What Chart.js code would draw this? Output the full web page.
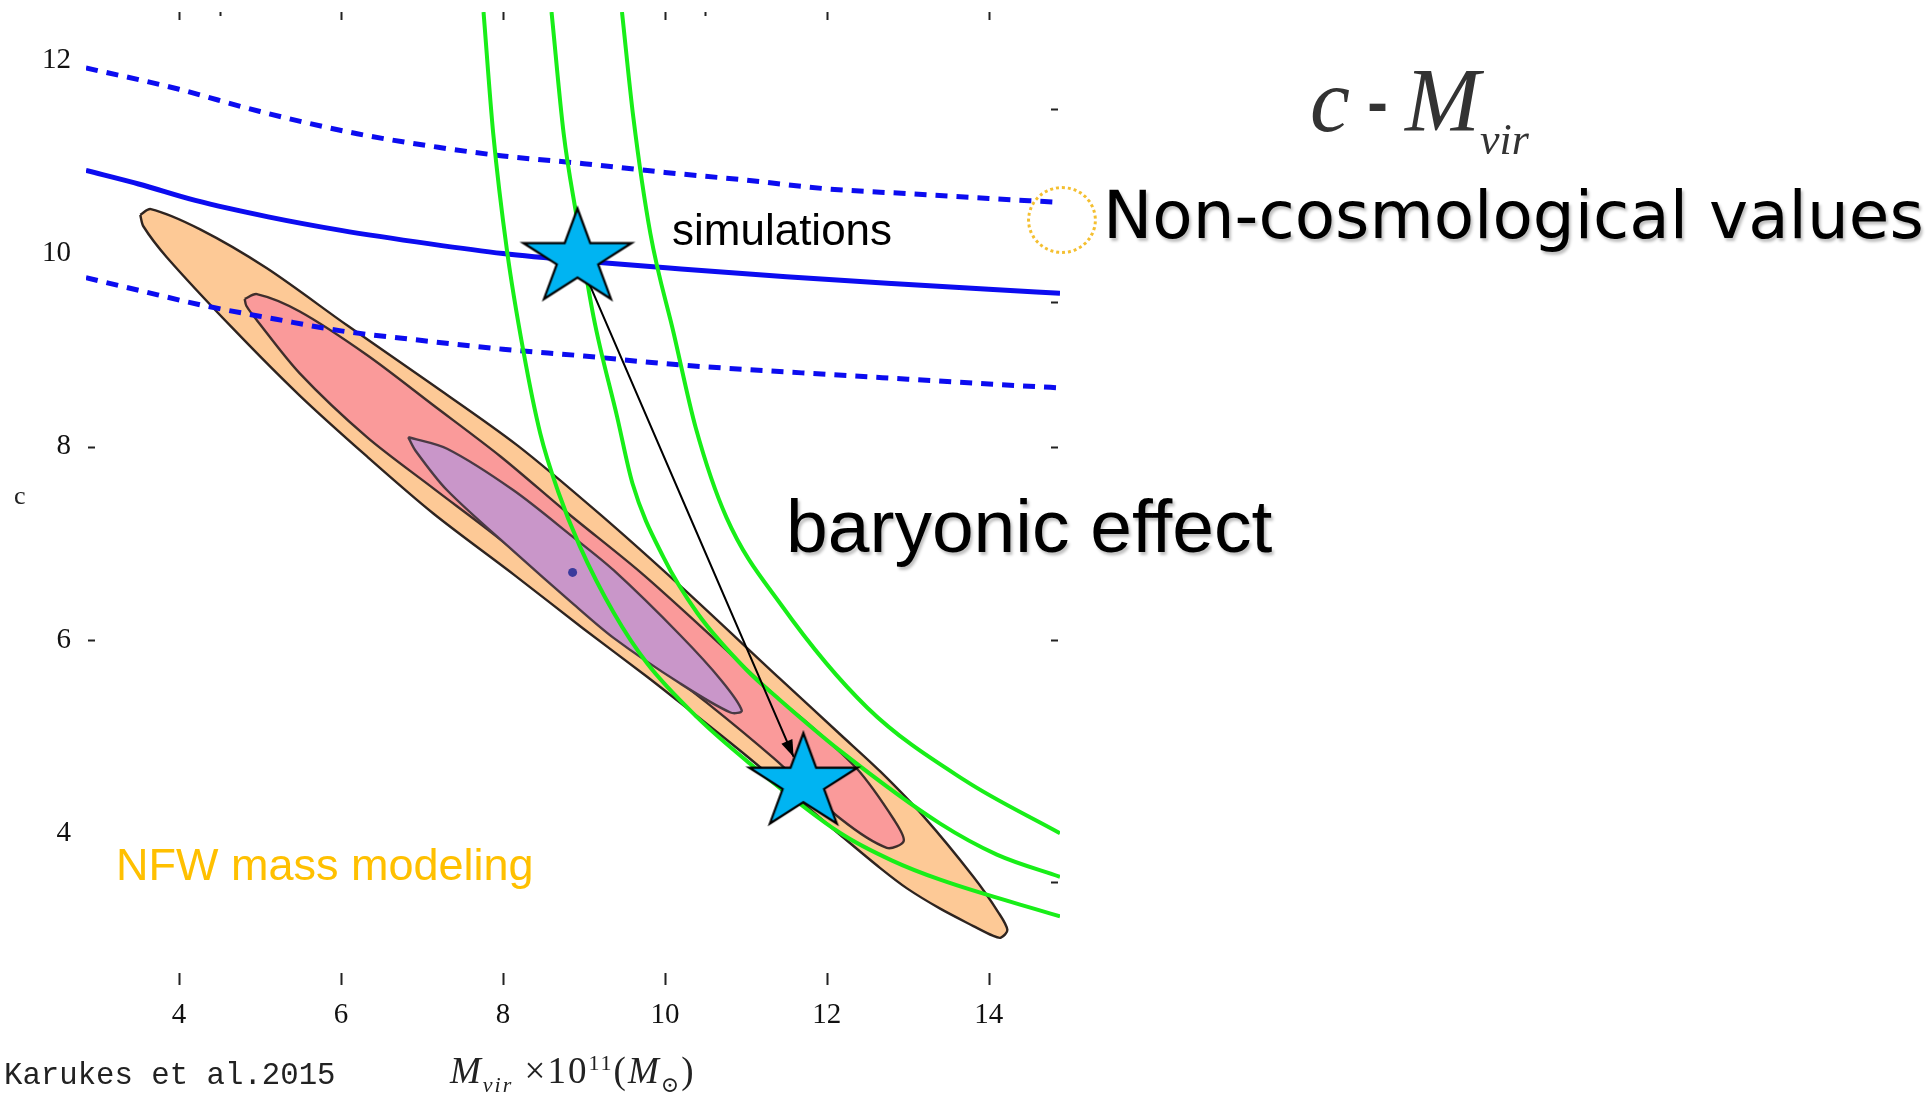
<!DOCTYPE html>
<html lang="en">
<head>
    <meta charset="UTF-8">
    <title>c - Mvir</title>
    <script src="https://cdn.jsdelivr.net/npm/chart.js"></script>
    <style>
        body {
            margin: 0;
            background: #fff;
            width: 1930px;
            height: 1093px;
            overflow: hidden;
            position: relative;
        }

        .chart-box {
            position: absolute;
            left: 0;
            top: 0;
            width: 1930px;
            height: 1093px;
        }

        .note {
            position: absolute;
            white-space: nowrap;
            line-height: 1;
        }

        .sans {
            font-family: "Liberation Sans", Arial, sans-serif;
            color: #000;
            text-shadow: 2px 3px 3px rgba(0, 0, 0, 0.25);
        }

        .serif {
            font-family: "Liberation Serif", "DejaVu Serif", serif;
        }

        .sun {
            position: absolute;
            left: 1027px;
            top: 186px;
            width: 64px;
            height: 62px;
            border: 3px dotted #f4bf30;
            border-radius: 50%;
        }
    </style>
</head>
<body>
    <div class="chart-box">
        <canvas id="cmChart"></canvas>
    </div>

    <!-- annotations -->
    <div class="note serif" style="left:1310px; top:56px; font-size:90px; color:#333;">
        <i>c</i><span style="font-family:'Liberation Sans',sans-serif; font-size:62px; font-weight:bold; position:relative; top:-8px;"> - </span><i>M</i><sub style="font-size:44px; position:relative; top:4px;"><i>vir</i></sub>
    </div>
    <div class="sun"></div>
    <div class="note" style="left:1103px; top:183px; font-size:66px; font-family:'DejaVu Sans', Verdana, sans-serif; text-shadow:2px 3px 3px rgba(0,0,0,0.25);">Non-cosmological values</div>
    <div class="note sans" style="left:672px; top:208px; font-size:44px; text-shadow:none;">simulations</div>
    <div class="note sans" style="left:786px; top:489px; font-size:75px;">baryonic effect</div>
    <div class="note" style="left:116px; top:842px; font-size:45px; font-family:'Liberation Sans', Arial, sans-serif; color:#ffc000;">NFW mass modeling</div>
    <div class="note" style="left:4px; top:1061px; font-size:30.7px; font-family:'Liberation Mono','Courier New',monospace; color:#222;">Karukes et al.2015</div>
    <div class="note serif" style="left:450px; top:1052px; font-size:37px; color:#222; letter-spacing:2px;">
        <i>M</i><sub style="font-size:22px;"><i>vir</i></sub> ×10<sup style="font-size:22px;">11</sup>(<i>M</i><sub style="font-size:22px;">⊙</sub>)
    </div>
    <div class="note serif" style="left:14px; top:483px; font-size:26px; color:#222;">c</div>

    <script>
        // axis ticks
        const xTicks = [4, 6, 8, 10, 12, 14];
        const yTicks = [4, 6, 8, 10, 12];
        const topMinorTicks = [4.5, 10.5];
        const leftTicks = [8, 6];
        const rightTicks = [11.5, 9.5, 8, 6, 3.5];

        // NFW mass modeling contours (outer, middle, inner)
        const outerX = [3.52, 3.65, 4.26, 5.08, 6.07, 7.10, 8.17, 9.20, 10.19, 11.42, 12.17, 12.66, 13.20, 13.81, 14.12, 14.23, 14.15, 14.05, 13.81, 13.40, 12.99, 12.66, 12.17, 11.01, 10.19, 9.78, 8.99, 8.13, 7.14, 6.32, 5.49, 4.67, 3.85, 3.56, 3.52];
        const outerY = [10.40, 10.46, 10.25, 9.85, 9.26, 8.66, 8.02, 7.30, 6.56, 5.60, 5.02, 4.64, 4.17, 3.55, 3.18, 3.00, 2.92, 2.94, 3.04, 3.22, 3.43, 3.64, 3.98, 4.80, 5.35, 5.62, 6.12, 6.68, 7.31, 7.90, 8.53, 9.22, 9.96, 10.28, 10.40];
        const pinkX = [4.81, 4.96, 5.49, 6.32, 7.14, 7.97, 8.79, 9.70, 10.60, 11.42, 11.75, 12.37, 12.83, 12.95, 12.74, 12.17, 11.34, 10.52, 9.70, 8.99, 7.97, 7.14, 6.32, 5.49, 4.96, 4.83, 4.81];
        const pinkY = [9.53, 9.58, 9.40, 8.95, 8.43, 7.90, 7.32, 6.70, 6.02, 5.38, 5.15, 4.67, 4.14, 3.92, 3.85, 4.15, 4.78, 5.35, 5.88, 6.33, 7.04, 7.57, 8.10, 8.76, 9.31, 9.46, 9.53];
        const purpleX = [6.83, 7.31, 8.13, 8.86, 9.37, 10.19, 10.70, 10.95, 10.81, 10.19, 9.37, 8.86, 8.13, 7.31, 6.92, 6.83];
        const purpleY = [8.10, 7.98, 7.55, 7.07, 6.72, 6.05, 5.58, 5.27, 5.25, 5.55, 6.02, 6.38, 6.92, 7.55, 7.96, 8.10];
        const bestX = [8.86];
        const bestY = [6.70];

        // simulations c-M relation and scatter
        const simX = [2.85, 3.5, 4.2, 5.1, 6.0, 7.1, 8.0, 9.0, 10.2, 11.5, 12.8, 14.0, 14.88];
        const simY = [10.86, 10.72, 10.55, 10.38, 10.24, 10.10, 10.00, 9.92, 9.84, 9.76, 9.69, 9.63, 9.59];
        const simUpX = [2.85, 3.5, 4.0, 5.0, 6.2, 7.2, 8.0, 9.0, 10.0, 11.0, 12.0, 13.0, 14.0, 14.88];
        const simUpY = [11.92, 11.80, 11.70, 11.47, 11.24, 11.10, 11.01, 10.93, 10.84, 10.76, 10.67, 10.62, 10.57, 10.53];
        const simLowX = [2.85, 3.5, 4.26, 5.2, 6.0, 7.0, 8.0, 9.0, 10.0, 11.0, 12.0, 13.0, 14.0, 14.88];
        const simLowY = [9.75, 9.62, 9.47, 9.32, 9.20, 9.10, 9.01, 8.94, 8.86, 8.80, 8.75, 8.70, 8.65, 8.61];

        // green curves
        const greenAX = [7.76, 7.88, 8.05, 8.25, 8.46, 8.68, 8.95, 9.37, 9.78, 10.40, 11.01, 12.17, 12.80, 13.40, 14.88];
        const greenAY = [12.50, 11.24, 10.03, 9.00, 8.14, 7.54, 6.97, 6.28, 5.76, 5.20, 4.75, 4.00, 3.72, 3.52, 3.14];
        const greenBX = [8.60, 8.75, 8.91, 9.12, 9.41, 9.60, 9.98, 10.40, 11.01, 11.42, 12.17, 13.40, 14.10, 14.88];
        const greenBY = [12.50, 11.24, 10.38, 9.34, 8.31, 7.62, 6.86, 6.28, 5.69, 5.38, 4.85, 4.10, 3.78, 3.55];
        const greenCX = [9.47, 9.61, 9.82, 10.11, 10.38, 10.76, 11.44, 12.50, 13.70, 14.88];
        const greenCY = [12.50, 11.41, 10.21, 9.17, 8.20, 7.27, 6.36, 5.30, 4.55, 4.00];

        // stars and the arrow between them
        const starX = [8.92, 11.71];
        const starY = [9.97, 4.54];
        const arrowX = [8.92, 11.59];
        const arrowY = [9.97, 4.79];

        function pts(xs, ys) {
            return xs.map((x, i) => ({ x: x, y: ys[i] }));
        }

        // five pointed star marker
        function makeStar() {
            const c = document.createElement('canvas');
            c.width = 122;
            c.height = 106;
            const g = c.getContext('2d');
            const cx = 61, cy = 55, rx = 57, ry = 50, k = 0.382;
            g.beginPath();
            for (let i = 0; i < 10; i++) {
                const a = -Math.PI / 2 + i * Math.PI / 5;
                const f = i % 2 ? k : 1;
                const px = cx + Math.cos(a) * rx * f;
                const py = cy + Math.sin(a) * ry * f;
                if (i === 0) g.moveTo(px, py); else g.lineTo(px, py);
            }
            g.closePath();
            g.fillStyle = '#00b4f2';
            g.fill();
            g.lineWidth = 2.2;
            g.strokeStyle = '#000';
            g.stroke();
            return c;
        }

        function contour(label, xs, ys, fillColor, edgeColor, order) {
            return {
                label: label,
                data: pts(xs, ys),
                showLine: true,
                fill: 'shape',
                backgroundColor: fillColor,
                borderColor: edgeColor,
                borderWidth: 2.4,
                tension: 0.3,
                pointRadius: 0,
                order: order
            };
        }

        function curve(label, xs, ys, color, width, dash, order) {
            return {
                label: label,
                data: pts(xs, ys),
                showLine: true,
                fill: false,
                borderColor: color,
                borderWidth: width,
                borderDash: dash,
                cubicInterpolationMode: 'monotone',
                pointRadius: 0,
                order: order
            };
        }

        const arrowHead = {
            id: 'arrowHead',
            afterDatasetDraw(chart, args) {
                if (chart.data.datasets[args.index].label !== 'arrow') return;
                const p = args.meta.data;
                const a = p[0], b = p[p.length - 1];
                const ang = Math.atan2(b.y - a.y, b.x - a.x);
                const ctx = chart.ctx;
                ctx.save();
                ctx.translate(b.x, b.y);
                ctx.rotate(ang);
                ctx.beginPath();
                ctx.moveTo(0, 0);
                ctx.lineTo(-17, -6);
                ctx.lineTo(-17, 6);
                ctx.closePath();
                ctx.fillStyle = '#000';
                ctx.fill();
                ctx.restore();
            }
        };

        // short inward ticks on the four sides of the frame (no frame lines)
        const frameTicks = {
            id: 'frameTicks',
            afterDraw(chart) {
                const { ctx, chartArea: ca, scales } = chart;
                const x = scales.x, y = scales.y;
                ctx.save();
                ctx.strokeStyle = '#222';
                ctx.lineWidth = 2;
                ctx.beginPath();
                xTicks.forEach(v => {
                    const px = Math.round(x.getPixelForValue(v)) + 0.5;
                    ctx.moveTo(px, ca.bottom);
                    ctx.lineTo(px, ca.bottom - 12);
                    ctx.moveTo(px, ca.top);
                    ctx.lineTo(px, ca.top + 8);
                });
                topMinorTicks.forEach(v => {
                    const px = Math.round(x.getPixelForValue(v)) + 0.5;
                    ctx.moveTo(px, ca.top);
                    ctx.lineTo(px, ca.top + 4);
                });
                leftTicks.forEach(v => {
                    const py = Math.round(y.getPixelForValue(v)) + 0.5;
                    ctx.moveTo(ca.left + 2, py);
                    ctx.lineTo(ca.left + 9, py);
                });
                rightTicks.forEach(v => {
                    const py = Math.round(y.getPixelForValue(v)) + 0.5;
                    ctx.moveTo(ca.right - 9, py);
                    ctx.lineTo(ca.right - 2, py);
                });
                ctx.stroke();
                ctx.restore();
            }
        };

        const starImg = makeStar();
        const tickFont = { family: 'Liberation Serif', size: 29 };

        new Chart(document.getElementById('cmChart'), {
            type: 'scatter',
            data: {
                datasets: [
                    {
                        label: 'stars',
                        data: pts(starX, starY),
                        pointStyle: starImg,
                        pointRadius: 50,
                        clip: false,
                        order: 0
                    },
                    curve('arrow', arrowX, arrowY, '#000', 2, [], 1),
                    curve('green A', greenAX, greenAY, '#18ee18', 4, [], 2),
                    curve('green B', greenBX, greenBY, '#18ee18', 4, [], 2),
                    curve('green C', greenCX, greenCY, '#18ee18', 4, [], 2),
                    curve('simulations', simX, simY, '#0c0cf0', 5, [], 3),
                    curve('sim upper', simUpX, simUpY, '#0c0cf0', 5, [12, 9], 3),
                    curve('sim lower', simLowX, simLowY, '#0c0cf0', 5, [12, 9], 3),
                    {
                        label: 'best fit',
                        data: pts(bestX, bestY),
                        pointRadius: 4.5,
                        backgroundColor: '#3a3a9c',
                        borderWidth: 0,
                        order: 4
                    },
                    contour('inner', purpleX, purpleY, '#c996c9', '#4a3a44', 5),
                    contour('middle', pinkX, pinkY, '#fa9a9a', '#3f2e2c', 6),
                    contour('outer', outerX, outerY, '#fdc996', '#2e2420', 7)
                ]
            },
            options: {
                responsive: true,
                maintainAspectRatio: false,
                animation: false,
                events: [],
                layout: {
                    autoPadding: false,
                    padding: { left: 0, top: 12, right: 870, bottom: 0 }
                },
                plugins: {
                    legend: { display: false },
                    tooltip: { enabled: false }
                },
                scales: {
                    x: {
                        type: 'linear',
                        min: 2.85,
                        max: 14.88,
                        grid: { display: false },
                        border: { display: false },
                        afterBuildTicks: (scale) => { scale.ticks = xTicks.map(v => ({ value: v })); },
                        afterFit: (scale) => {
                            scale.height = 108;
                            scale.paddingLeft = 0;
                            scale.paddingRight = 0;
                        },
                        ticks: { font: tickFont, color: '#111', padding: 5, maxRotation: 0 }
                    },
                    y: {
                        type: 'linear',
                        min: 2.43,
                        max: 12.5,
                        grid: { display: false },
                        border: { display: false },
                        afterBuildTicks: (scale) => { scale.ticks = yTicks.map(v => ({ value: v })); },
                        afterFit: (scale) => {
                            scale.width = 86;
                            scale.paddingTop = 0;
                            scale.paddingBottom = 0;
                        },
                        ticks: { font: tickFont, color: '#111', padding: 7 }
                    }
                }
            },
            plugins: [arrowHead, frameTicks]
        });
    </script>
</body>
</html>
